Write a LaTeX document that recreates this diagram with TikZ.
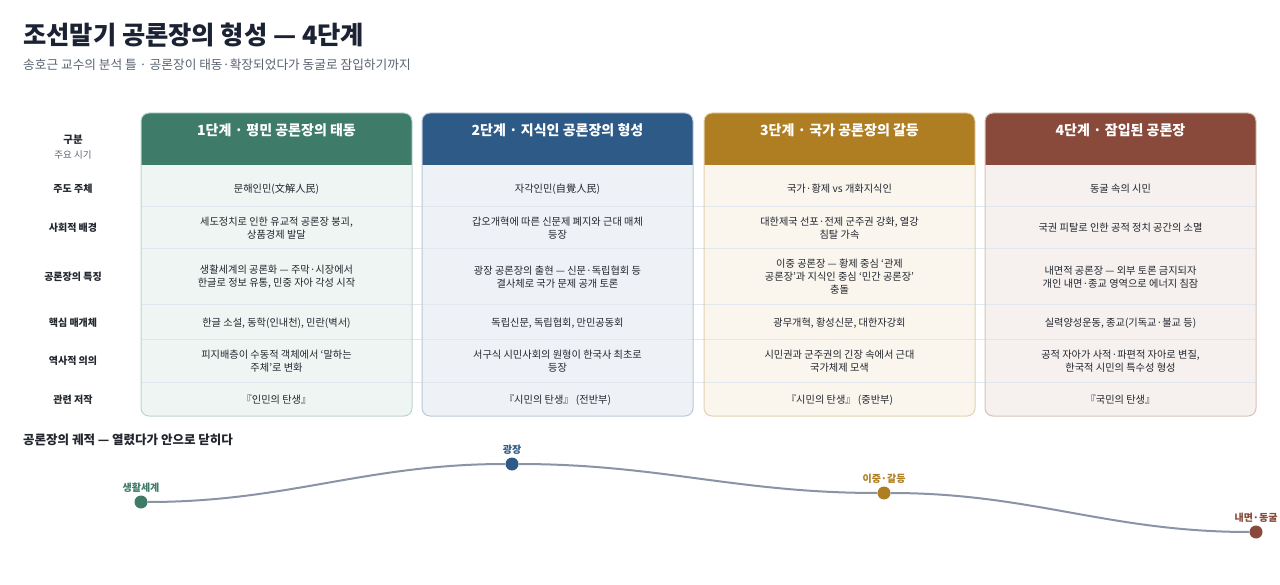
\documentclass[tikz,border=0pt]{standalone}
\usepackage{fontspec}
\setmainfont{Noto Sans CJK KR}
\usetikzlibrary{positioning}

\definecolor{ink}{HTML}{22262E}
\definecolor{titleink}{HTML}{1B2233}
\definecolor{subink}{HTML}{5B6472}
\definecolor{stageA}{HTML}{3E7B69}
\definecolor{tintA}{HTML}{EFF5F2}
\definecolor{edgeA}{HTML}{BCD5CB}
\definecolor{stageB}{HTML}{2E5A88}
\definecolor{tintB}{HTML}{EEF2F6}
\definecolor{edgeB}{HTML}{BAC8D8}
\definecolor{stageC}{HTML}{B07E22}
\definecolor{tintC}{HTML}{FAF6EE}
\definecolor{edgeC}{HTML}{E2D3B0}
\definecolor{stageD}{HTML}{8A4A3B}
\definecolor{tintD}{HTML}{F6F1EF}
\definecolor{edgeD}{HTML}{D8C3BC}
\definecolor{rule}{HTML}{E2E7ED}
\definecolor{trailink}{HTML}{8A94A6}

\begin{document}
\begin{tikzpicture}[
      x=1pt, y=-1pt,
      cell/.style={align=center, text=ink, inner sep=1pt,
        font=\fontsize{10.2}{13}\selectfont},
      rowlbl/.style={align=center, text=ink, inner sep=1pt,
        font=\bfseries\fontsize{10}{13}\selectfont},
      headlbl/.style={text=white, inner sep=1pt,
        font=\bfseries\fontsize{14}{16}\selectfont},
      card/.style={rounded corners=8pt, line width=1pt},
      dot/.style={circle, inner sep=0pt, minimum size=13pt},
      dotlbl/.style={inner sep=1pt, font=\bfseries\fontsize{10}{12}\selectfont},
      trail/.style={draw=trailink, line width=2pt}
      ]

      \useasboundingbox[fill=white] (0,0) rectangle (1280,585);

      % title block
      \node[anchor=west, inner sep=0pt, text=titleink,
        font=\bfseries\fontsize{25.3}{28}\selectfont] (title) at (23,35)
        {조선말기 공론장의 형성 — 4단계};
      \node[below=11pt of title.south west, anchor=north west, inner sep=0pt,
        text=subink, font=\fontsize{12.7}{14}\selectfont] (sub)
        {송호근 교수의 분석 틀 · 공론장이 태동·확장되었다가 동굴로 잠입하기까지};

      % cards
      \begin{scope}
        \clip[rounded corners=8pt] (141,113) rectangle (412,416);
        \fill[tintA] (141,113) rectangle (412,416);
        \fill[stageA] (141,113) rectangle (412,165);
      \end{scope}
      \begin{scope}
        \clip[rounded corners=8pt] (422,113) rectangle (693,416);
        \fill[tintB] (422,113) rectangle (693,416);
        \fill[stageB] (422,113) rectangle (693,165);
      \end{scope}
      \begin{scope}
        \clip[rounded corners=8pt] (704,113) rectangle (975,416);
        \fill[tintC] (704,113) rectangle (975,416);
        \fill[stageC] (704,113) rectangle (975,165);
      \end{scope}
      \begin{scope}
        \clip[rounded corners=8pt] (985,113) rectangle (1256,416);
        \fill[tintD] (985,113) rectangle (1256,416);
        \fill[stageD] (985,113) rectangle (1256,165);
      \end{scope}

      % row rules
      \draw[rule, line width=1pt] (141,207) -- (1256,207);
      \draw[rule, line width=1pt] (141,249) -- (1256,249);
      \draw[rule, line width=1pt] (141,305) -- (1256,305);
      \draw[rule, line width=1pt] (141,340) -- (1256,340);
      \draw[rule, line width=1pt] (141,382) -- (1256,382);

      \draw[card, draw=edgeA] (141,113) rectangle (412,416);
      \draw[card, draw=edgeB] (422,113) rectangle (693,416);
      \draw[card, draw=edgeC] (704,113) rectangle (975,416);
      \draw[card, draw=edgeD] (985,113) rectangle (1256,416);

      % headers
      \node[headlbl] (h1) at (276.5,130) {1단계 · 평민 공론장의 태동};
      \node[headlbl] (h2) at (557.5,130) {2단계 · 지식인 공론장의 형성};
      \node[headlbl] (h3) at (839.5,130) {3단계 · 국가 공론장의 갈등};
      \node[headlbl] (h4) at (1120.5,130) {4단계 · 잠입된 공론장};

      % row labels
      \node[rowlbl, font=\bfseries\fontsize{10.5}{13}\selectfont] (r0) at (73,140) {구분};
      \node[below=3pt of r0, inner sep=1pt, text=subink,
        font=\fontsize{9.5}{11}\selectfont] (r0b) {주요 시기};
      \node[rowlbl] (r1) at (73,189) {주도 주체};
      \node[rowlbl] (r2) at (73,228) {사회적 배경};
      \node[rowlbl] (r3) at (73,277) {공론장의 특징};
      \node[rowlbl] (r4) at (73,323) {핵심 매개체};
      \node[rowlbl] (r5) at (73,361) {역사적 의의};
      \node[rowlbl] (r6) at (73,400) {관련 저작};

      % stage 1
      \node[cell] (a1) at (h1 |- r1) {문해인민(文解人民)};
      \node[cell] (a2) at (h1 |- r2) {세도정치로 인한 유교적 공론장 붕괴,\\상품경제 발달};
      \node[cell] (a3) at (h1 |- r3) {생활세계의 공론화 — 주막·시장에서\\한글로 정보 유통, 민중 자아 각성 시작};
      \node[cell] (a4) at (h1 |- r4) {한글 소설, 동학(인내천), 민란(벽서)};
      \node[cell] (a5) at (h1 |- r5) {피지배층이 수동적 객체에서 ‘말하는\\주체’로 변화};
      \node[cell] (a6) at (h1 |- r6) {『인민의 탄생』};

      % stage 2
      \node[cell] (b1) at (h2 |- r1) {자각인민(自覺人民)};
      \node[cell] (b2) at (h2 |- r2) {갑오개혁에 따른 신문제 폐지와 근대 매체\\등장};
      \node[cell] (b3) at (h2 |- r3) {광장 공론장의 출현 — 신문·독립협회 등\\결사체로 국가 문제 공개 토론};
      \node[cell] (b4) at (h2 |- r4) {독립신문, 독립협회, 만민공동회};
      \node[cell] (b5) at (h2 |- r5) {서구식 시민사회의 원형이 한국사 최초로\\등장};
      \node[cell] (b6) at (h2 |- r6) {『시민의 탄생』 (전반부)};

      % stage 3
      \node[cell] (c1) at (h3 |- r1) {국가·황제 vs 개화지식인};
      \node[cell] (c2) at (h3 |- r2) {대한제국 선포·전제 군주권 강화, 열강\\침탈 가속};
      \node[cell] (c3) at (h3 |- r3) {이중 공론장 — 황제 중심 ‘관제\\공론장’과 지식인 중심 ‘민간 공론장’\\충돌};
      \node[cell] (c4) at (h3 |- r4) {광무개혁, 황성신문, 대한자강회};
      \node[cell] (c5) at (h3 |- r5) {시민권과 군주권의 긴장 속에서 근대\\국가체제 모색};
      \node[cell] (c6) at (h3 |- r6) {『시민의 탄생』 (중반부)};

      % stage 4
      \node[cell] (d1) at (h4 |- r1) {동굴 속의 시민};
      \node[cell] (d2) at (h4 |- r2) {국권 피탈로 인한 공적 정치 공간의 소멸};
      \node[cell] (d3) at (h4 |- r3) {내면적 공론장 — 외부 토론 금지되자\\개인 내면·종교 영역으로 에너지 침잠};
      \node[cell] (d4) at (h4 |- r4) {실력양성운동, 종교(기독교·불교 등)};
      \node[cell] (d5) at (h4 |- r5) {공적 자아가 사적·파편적 자아로 변질,\\한국적 시민의 특수성 형성};
      \node[cell] (d6) at (h4 |- r6) {『국민의 탄생』};

      % trajectory
      \node[anchor=west, inner sep=0pt, text=ink,
        font=\bfseries\fontsize{12.5}{14}\selectfont] (trk) at (23,440)
        {공론장의 궤적 — 열렸다가 안으로 닫히다};

      \node[dot, fill=stageA] (p1) at (141,502) {};
      \node[dot, fill=stageB] (p2) at (512,464) {};
      \node[dot, fill=stageC] (p3) at (884,493) {};
      \node[dot, fill=stageD] (p4) at (1256,532) {};

      \node[dotlbl, text=stageA, above=2pt of p1] (l1) {생활세계};
      \node[dotlbl, text=stageB, above=2pt of p2] (l2) {광장};
      \node[dotlbl, text=stageC, above=2pt of p3] (l3) {이중·갈등};
      \node[dotlbl, text=stageD, above=2pt of p4] (l4) {내면·동굴};

      % connect the dots
      \draw[trail] (p1) to[out=0, in=180] (p2);
      \draw[trail] (p2) to[out=0, in=180] (p3);
      \draw[trail] (p3) to[out=0, in=180] (p4);

\end{tikzpicture}
\end{document}
